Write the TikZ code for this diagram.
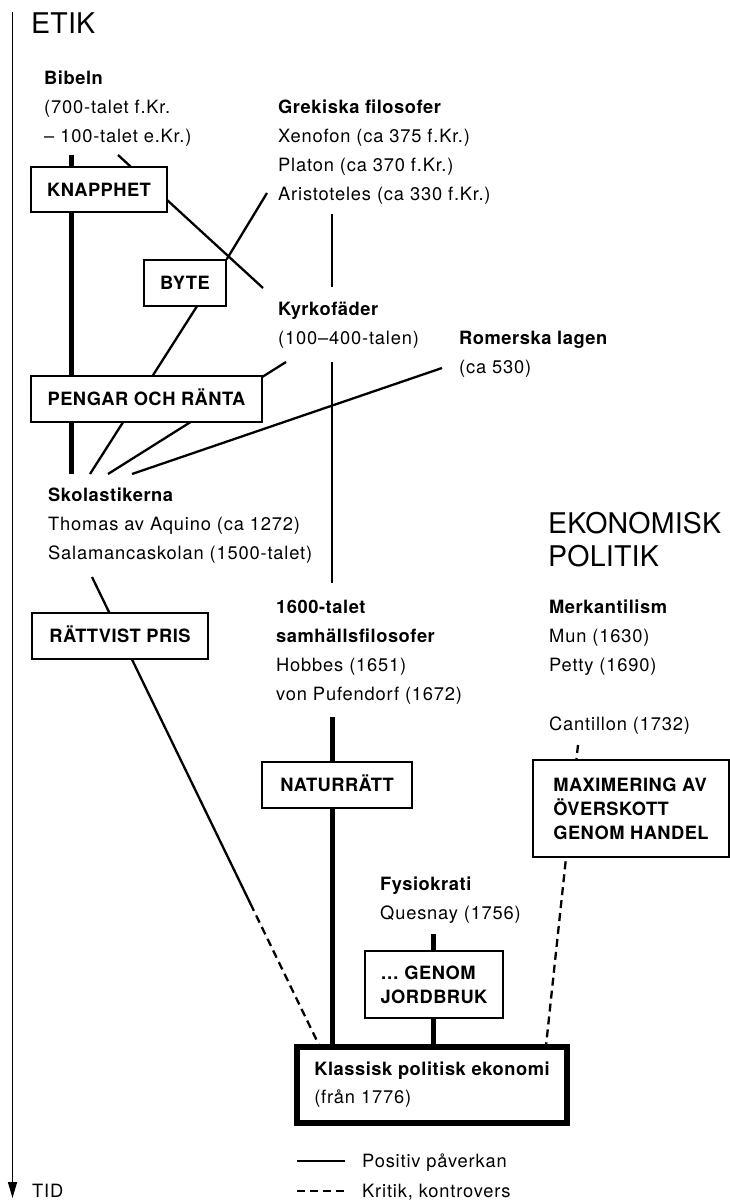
\documentclass[tikz,border=0pt]{standalone}
\usepackage{fontspec}
\setmainfont{TeX Gyre Heros}
\newfontfamily\bodyf[LetterSpace=4.5]{TeX Gyre Heros}
\newfontfamily\labf[LetterSpace=3]{TeX Gyre Heros}
\newfontfamily\boxf[LetterSpace=2.5]{TeX Gyre Heros}
\newfontfamily\titf[LetterSpace=0.8]{TeX Gyre Heros}
\usetikzlibrary{arrows.meta,calc}
\pgfdeclarelayer{bg}
\pgfsetlayers{bg,main}
\newcommand\lb[1]{{\labf\bfseries #1}}
\newcommand\blk[1]{\begin{tabular}[t]{@{}l@{}}#1\end{tabular}}
\tikzset{
  txt/.style={anchor=base west, inner sep=0, font=\bodyf\fontsize{18.3}{29}\selectfont},
  ttl/.style={anchor=base west, inner sep=0, font=\titf\fontsize{28.5}{33}\selectfont},
  box/.style={draw, fill=white, line width=1.5pt, inner sep=0, font=\boxf\bfseries\fontsize{18.3}{24}\selectfont, text height=13pt, text depth=0pt},
  mbox/.style={draw, fill=white, line width=1.5pt, inner sep=0, align=left, font=\boxf\bfseries\fontsize{18.3}{24}\selectfont},
  thinline/.style={line width=2.3pt},
  thickline/.style={line width=5pt},
  crit/.style={line width=2.3pt, dash pattern=on 8pt off 5pt},
}
\begin{document}
\begin{tikzpicture}[x=1pt,y=-1pt]
\useasboundingbox (0,0) rectangle (730,1200);

% titles
\node[ttl] (etik) at (31,33) {ETIK};
\node[ttl] (ekpol) at (548,533) {\blk{EKONOMISK\\POLITIK}};

% text blocks
\node[txt] (bib) at (44,84) {\blk{\lb{Bibeln}\\(700-talet f.Kr.\\– 100-talet e.Kr.)}};
\node[txt] (grek) at (278,113) {\blk{\lb{Grekiska filosofer}\\Xenofon (ca 375 f.Kr.)\\Platon (ca 370 f.Kr.)\\Aristoteles (ca 330 f.Kr.)}};
\node[txt] (kyr) at (278,315) {\blk{\lb{Kyrkofäder}\\(100–400-talen)}};
\node[txt] (rom) at (459,344) {\blk{\lb{Romerska lagen}\\(ca 530)}};
\node[txt] (skol) at (48,501) {\blk{\lb{Skolastikerna}\\Thomas av Aquino (ca 1272)\\Salamancaskolan (1500-talet)}};
\node[txt] (sam) at (276,613) {\blk{\lb{1600-talet}\\\lb{samhällsfilosofer}\\Hobbes (1651)\\von Pufendorf (1672)}};
\node[txt] (merk) at (549,613) {\blk{\lb{Merkantilism}\\Mun (1630)\\Petty (1690)}};
\node[txt] (cant) at (549,730) {Cantillon (1732)};
\node[txt] (fys) at (380,890) {\blk{\lb{Fysiokrati}\\Quesnay (1756)}};

% boxes
\node[box, minimum width=136, minimum height=45] (knapp) at (99,189.5) {KNAPPHET};
\node[box, minimum width=82, minimum height=46] (byte) at (185,283) {BYTE};
\node[box, minimum width=231, minimum height=46] (peng) at (146.5,399) {PENGAR OCH RÄNTA};
\node[box, minimum width=176, minimum height=46] (ratt) at (120,636) {RÄTTVIST PRIS};
\node[box, minimum width=150, minimum height=46] (natur) at (337,785) {NATURRÄTT};
\node[mbox, minimum width=196, minimum height=97] (maxi) at (631,808.5) {MAXIMERING AV\\ÖVERSKOTT\\GENOM HANDEL};
\node[mbox, minimum width=138, minimum height=67] (jord) at (434,984.5) {… GENOM\\JORDBRUK};
\node[draw, fill=white, line width=6pt, minimum width=270, minimum height=76, inner sep=0, align=left, font=\bodyf\fontsize{18.3}{28}\selectfont] (klass) at (432,1085) {\lb{Klassisk politisk ekonomi}\\(från 1776)};

% legend and axis labels
\node[txt] (leg1) at (362,1167) {Positiv påverkan};
\node[txt] (leg2) at (362,1197) {Kritik, kontrovers};
\node[txt] (tid) at (32,1197) {TID};

% connector end points
\coordinate (axtop) at (12.5,12);
\coordinate (axbot) at (12.5,1198);
\coordinate (bibA) at (71,155);
\coordinate (skolA) at (71,474);
\coordinate (bibB) at (118,155);
\coordinate (kyrB) at (263,288);
\coordinate (grekC) at (267,193);
\coordinate (byteD) at (211.8,283);
\coordinate (skolD) at (90,474);
\coordinate (kyrE) at (286,362);
\coordinate (skolE) at (108,474);
\coordinate (romF) at (442,368);
\coordinate (skolF) at (132,474);
\coordinate (grekG) at (332,214);
\coordinate (kyrG) at (332,287);
\coordinate (kyrH) at (332,362);
\coordinate (samH) at (332,583);
\coordinate (salI) at (92,577);
\coordinate (klassI) at (319,1045);
\coordinate (samJ) at (332,717);
\coordinate (klassJ) at (332,1047);
\coordinate (quesK) at (433,934);
\coordinate (klassK) at (433,1047);
\coordinate (cantL) at (578,745);
\coordinate (klassL) at (546,1046);
\coordinate (legA1) at (297,1161);
\coordinate (legA2) at (345,1161);
\coordinate (legB1) at (297,1191);
\coordinate (legB2) at (345,1191);

\begin{pgfonlayer}{bg}
\draw[line width=1.5pt, -{Triangle[width=9pt,length=16pt]}] (axtop) -- (axbot);
\draw[thickline] (bibA) -- (skolA);
\draw[thinline] (bibB) -- (kyrB);
\draw[thinline] (grekC) -- (byte.north east);
\draw[thinline] (byteD) -- (skolD);
\draw[thinline] (kyrE) -- (skolE);
\draw[thinline] (romF) -- (skolF);
\draw[thinline] (grekG) -- (kyrG);
\draw[thinline] (kyrH) -- (samH);
\draw[thinline] (salI) -- ($(salI)!0.698!(klassI)$);
\draw[crit] ($(salI)!0.698!(klassI)$) -- (klassI);
\draw[thickline] (samJ) -- (klassJ);
\draw[thickline] (quesK) -- (klassK);
\draw[crit] (cantL) -- (klassL);
\draw[line width=2.5pt] (legA1) -- (legA2);
\draw[line width=2.5pt, dash pattern=on 8pt off 5pt] (legB1) -- (legB2);
\end{pgfonlayer}
\end{tikzpicture}
\end{document}
